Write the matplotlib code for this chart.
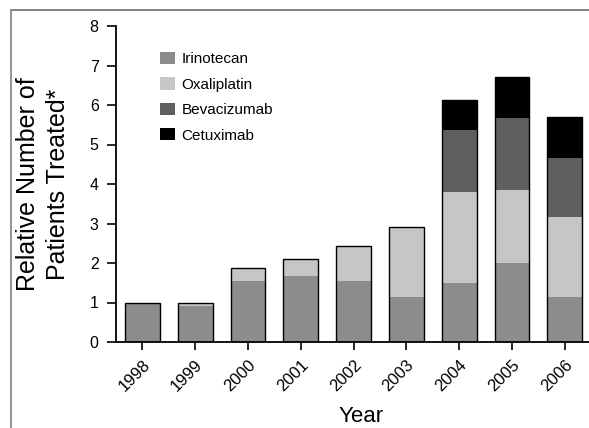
import matplotlib
matplotlib.use("Agg")
import matplotlib.pyplot as plt
from matplotlib.patches import Patch
from matplotlib.lines import Line2D
import numpy as np

years = ["1998", "1999", "2000", "2001", "2002", "2003", "2004", "2005", "2006"]
irinotecan = [1.00, 0.91, 1.55, 1.66, 1.55, 1.14, 1.49, 1.99, 1.14]
oxaliplatin = [0.00, 0.09, 0.32, 0.43, 0.88, 1.76, 2.30, 1.86, 2.02]
bevacizumab = [0.00, 0.00, 0.00, 0.00, 0.00, 0.00, 1.58, 1.81, 1.49]
cetuximab = [0.00, 0.00, 0.00, 0.00, 0.00, 0.00, 0.75, 1.05, 1.05]

series_names = ["Irinotecan", "Oxaliplatin", "Bevacizumab", "Cetuximab"]
series_colors = ["#8c8c8c", "#c6c6c6", "#5f5f5f", "#000000"]

plt.rcParams['font.family'] = ['Liberation Sans', 'DejaVu Sans']

W, H = 589, 428
fig = plt.figure(figsize=(W / 100, H / 100), dpi=100)
ax = fig.add_axes([116 / W, 1 - 342 / H, 1 - 116 / W, (342 - 26) / H])

x = np.arange(len(years))
width = 0.66
bottom = np.zeros(len(years))
for vals, col in zip([irinotecan, oxaliplatin, bevacizumab, cetuximab], series_colors):
    v = np.array(vals)
    ax.bar(x, v, width, bottom=bottom, color=col, edgecolor='none', linewidth=0)
    bottom += v
ax.bar(x, bottom, width, fill=False, edgecolor='black', linewidth=1.0)

ax.set_xlim(-0.5, 8.46)
ax.set_ylim(0, 8)
ax.set_yticks(range(0, 9))
ax.set_xticks(x)
ax.set_xticklabels(years, rotation=45, ha='right', va='top', rotation_mode='anchor')

for s in ['top', 'right']:
    ax.spines[s].set_visible(False)
for s in ['left', 'bottom']:
    ax.spines[s].set_linewidth(1.3)
ax.tick_params(axis='both', direction='out', width=1.2, colors='black')
ax.tick_params(axis='y', length=6.5, pad=6, labelsize=11.5)
ax.tick_params(axis='x', length=6, pad=5, labelsize=12)

fig.text(43 / W, 1 - 184 / H, "Relative Number of\nPatients Treated*", fontsize=18,
         rotation=90, ha='center', va='center', multialignment='center', linespacing=1.32)
fig.text(361 / W, 1 - 417 / H, "Year", fontsize=16, ha='center', va='center')

handles = [Patch(facecolor=c, edgecolor='none') for c in series_colors]
leg = ax.legend(handles, series_names, loc='upper left',
                bbox_to_anchor=(160 / W, 1 - 52 / H), bbox_transform=fig.transFigure,
                frameon=False, fontsize=11, handlelength=0.95, handleheight=0.85,
                handletextpad=0.45, labelspacing=0.72, borderpad=0, borderaxespad=0)

fig.add_artist(Line2D([10.5 / W, 1], [1 - 10 / H, 1 - 10 / H], transform=fig.transFigure,
                      color='#7a7a7a', lw=1.3))
fig.add_artist(Line2D([10.5 / W, 10.5 / W], [0, 1 - 10 / H], transform=fig.transFigure,
                      color='#8a8a8a', lw=1.3))

fig.savefig("out.png", dpi=100)
